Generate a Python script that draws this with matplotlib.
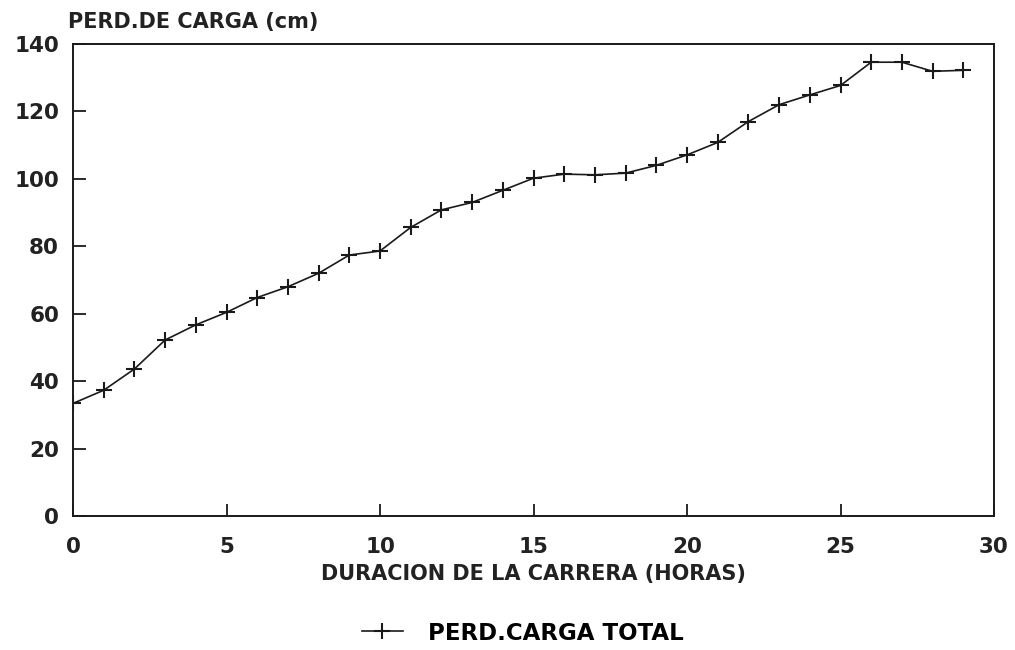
import matplotlib
matplotlib.use("Agg")
import matplotlib.pyplot as plt

hours = list(range(0, 30))
perd_carga_total = [33.4, 37.3, 43.6, 52.2, 56.7, 60.4, 64.8, 68.0, 72.0, 77.4,
                    78.6, 85.6, 90.8, 93.0, 96.6, 100.2, 101.4, 101.2, 101.7, 104.0,
                    107.1, 110.8, 117.0, 122.0, 124.9, 127.7, 134.6, 134.6, 131.9, 132.2]
xticks = [0, 5, 10, 15, 20, 25, 30]
yticks = [0, 20, 40, 60, 80, 100, 120, 140]

plt.rcParams['font.family'] = ['DejaVu Sans']

fig = plt.figure(figsize=(10.15, 6.5), dpi=100)
ax = fig.add_axes([73/1015, (650-516)/650, (994-73)/1015, (516-44)/650])

line, = ax.plot(hours, perd_carga_total, color='#1a1a1a', lw=1.2,
                marker='+', markersize=12, markeredgewidth=1.5,
                label='PERD.CARGA TOTAL')

ax.set_xlim(0, 30)
ax.set_ylim(0, 140)
ax.set_xticks(xticks)
ax.set_yticks(yticks)
ax.tick_params(direction='in', length=9, width=1.3, colors='#1a1a1a',
               labelsize=15.5, pad=10)
ax.tick_params(axis='x', pad=15)
for lbl in ax.get_xticklabels() + ax.get_yticklabels():
    lbl.set_fontweight('bold')
    lbl.set_color('#222222')
for s in ax.spines.values():
    s.set_linewidth(1.4)
    s.set_color('#1a1a1a')

ax.set_xlabel('DURACION DE LA CARRERA (HORAS)', fontsize=15,
              fontweight='bold', color='#222222', labelpad=5)
fig.text(68/1015, 1 - 22/650, 'PERD.DE CARGA (cm)', fontsize=15,
         fontweight='bold', color='#222222', ha='left', va='center')

fig.legend(handles=[line], loc='center', bbox_to_anchor=(0.515, 1 - 633/650),
           frameon=False, handlelength=1.8, handletextpad=1.1,
           prop={'weight': 'bold', 'size': 16.5})

fig.savefig('out.png', dpi=100, facecolor='white')
